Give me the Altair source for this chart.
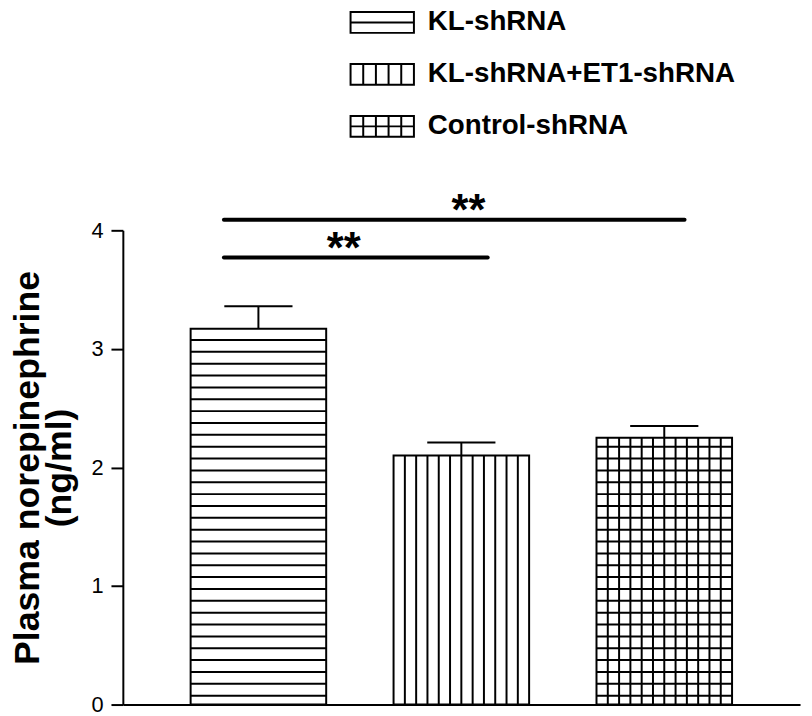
import altair as alt
import pandas as pd

# ---- data ----
groups = ["KL-shRNA", "KL-shRNA+ET1-shRNA", "Control-shRNA"]
positions = [1, 2, 3]
means = [3.17, 2.10, 2.25]
sems = [0.19, 0.11, 0.10]
patterns = ["horizontal", "vertical", "grid"]

sig_x_start = [0.83, 0.83]
sig_x_end = [3.10, 2.13]
sig_y = [4.09, 3.77]
sig_text_x = [2.035, 1.42]
sig_labels = ["**", "**"]

y_ticks = [0, 1, 2, 3, 4]

# ---- styling constants ----
FONT = "Liberation Sans"
HALF_W = 0.334       # half bar width in x units
CAP_HALF = 0.168     # half error-cap width
H_STEP = 0.1         # horizontal hatch spacing (y units)
H_OFFSET = 0.075
N_COLS = 12          # vertical hatch columns

# legend swatch paths (custom symbols)
box = "M-2,-0.66L2,-0.66L2,0.66L-2,0.66Z"
mid = "M-2,0L2,0"
cols = "".join(f"M{x},-0.66L{x},0.66" for x in [-1.2, -0.4, 0.4, 1.2])
shape_paths = [box + mid, box + cols, box + cols + mid]

bars = pd.DataFrame({
    "group": groups,
    "x": [p - HALF_W for p in positions],
    "x2": [p + HALF_W for p in positions],
    "pos": positions,
    "mean": means,
    "top": [m + s for m, s in zip(means, sems)],
    "cl": [p - CAP_HALF for p in positions],
    "cr": [p + CAP_HALF for p in positions],
})

# hatch lines derived from the bars
h_rows, v_rows = [], []
for g, p, m, pat in zip(groups, positions, means, patterns):
    if pat in ("horizontal", "grid"):
        k = 0
        while H_OFFSET + k * H_STEP < m - 0.02:
            h_rows.append({"x": p - HALF_W, "x2": p + HALF_W, "y": H_OFFSET + k * H_STEP})
            k += 1
    if pat in ("vertical", "grid"):
        for k in range(1, N_COLS):
            xx = p - HALF_W + k * (2 * HALF_W / N_COLS)
            v_rows.append({"x": xx, "y": 0, "y2": m})
hatch_h = pd.DataFrame(h_rows)
hatch_v = pd.DataFrame(v_rows)

sig = pd.DataFrame({"x": sig_x_start, "x2": sig_x_end, "y": sig_y,
                    "tx": sig_text_x, "label": sig_labels})

xs = alt.Scale(domain=[0.332, 3.669], nice=False, zero=False)
ys = alt.Scale(domain=[0, 4], nice=False, zero=True)

base = alt.Chart(bars)

bar_layer = base.mark_bar(fill="white", stroke="black", strokeWidth=2).encode(
    x=alt.X("x:Q", scale=xs,
            axis=alt.Axis(title=None, labels=False, ticks=False, grid=False,
                          domainColor="black", domainWidth=2)),
    x2="x2:Q",
    y=alt.Y("mean:Q", scale=ys,
            axis=alt.Axis(title=["Plasma norepinephrine", "(ng/ml)"], values=y_ticks,
                          format="d",
                          grid=False, domainColor="black", domainWidth=2,
                          tickColor="black", tickWidth=2, tickSize=12,
                          labelFont=FONT, labelFontSize=22, labelColor="black",
                          labelPadding=8, titleFont=FONT, titleFontSize=36,
                          titleFontWeight="bold", titleColor="black",
                          titleLineHeight=32, titlePadding=13)),
    y2=alt.datum(0),
)

def X(f):
    return alt.X(f, scale=xs)

def Y(f):
    return alt.Y(f, scale=ys)

hh = alt.Chart(hatch_h).mark_rule(color="black", strokeWidth=2).encode(
    x=X("x:Q"), x2="x2:Q", y=Y("y:Q"))
hv = alt.Chart(hatch_v).mark_rule(color="black", strokeWidth=2).encode(
    x=X("x:Q"), y=Y("y:Q"), y2="y2:Q")

err_v = base.mark_rule(color="black", strokeWidth=2).encode(
    x=X("pos:Q"), y=Y("mean:Q"), y2="top:Q")
err_c = base.mark_rule(color="black", strokeWidth=2).encode(
    x=X("cl:Q"), x2="cr:Q", y=Y("top:Q"))

legend_pts = base.mark_point(opacity=0, filled=False, strokeWidth=2, color="black").encode(
    x=X("pos:Q"), y=Y("mean:Q"),
    shape=alt.Shape("group:N",
                    scale=alt.Scale(domain=groups, range=shape_paths),
                    legend=alt.Legend(title=None, orient="none", legendX=245, legendY=-227,
                                      padding=0, symbolSize=1024, symbolOpacity=1,
                                      symbolStrokeWidth=2, symbolStrokeColor="black",
                                      symbolFillColor="white", rowPadding=20.5,
                                      labelOffset=29, labelFont=FONT, labelFontSize=28,
                                      labelFontWeight="bold", labelColor="black",
                                      labelLimit=500)),
)

sig_lines = alt.Chart(sig).mark_rule(color="black", strokeWidth=4, strokeCap="round").encode(
    x=X("x:Q"), x2="x2:Q", y=Y("y:Q"))
sig_text = alt.Chart(sig).mark_text(font=FONT, fontSize=44, fontWeight="bold",
                                    color="black", baseline="alphabetic", dy=5).encode(
    x=X("tx:Q"), y=Y("y:Q"), text="label:N")

chart = alt.layer(bar_layer, hh, hv, err_v, err_c, legend_pts, sig_lines, sig_text).properties(
    width=684, height=479,
    autosize=alt.AutoSizeParams(type="none"),
    padding={"left": 116, "top": 221, "right": 4, "bottom": 8},
).configure_view(stroke=None).configure_axisY(
    labelFont=FONT, labelFontSize=22, labelColor="black"
)

chart.save("out.html", embed_options={"renderer": "svg", "actions": False})
